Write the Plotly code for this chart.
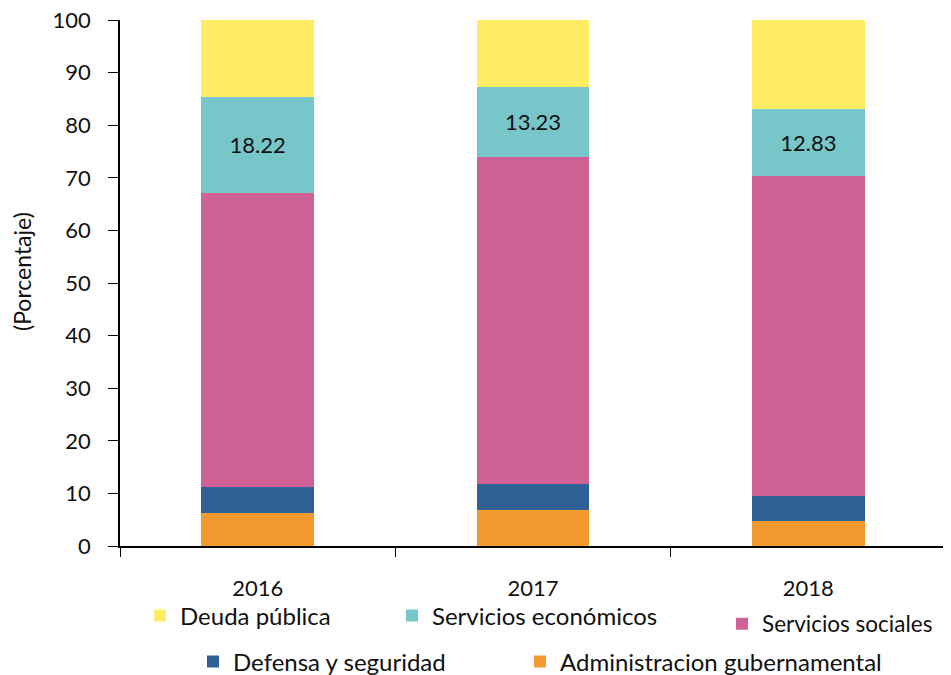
import plotly.graph_objects as go

# Composicion del gasto por año (porcentaje)
years = ["2016", "2017", "2018"]
administracion = [6.2, 6.8, 4.8]
defensa = [5.1, 5.0, 4.7]
sociales = [55.9, 62.2, 60.8]
economicos = [18.22, 13.23, 12.83]
deuda = [14.58, 12.77, 16.87]

FONT = "Lato"

series = [
    ("Administracion gubernamental", administracion, "#F39A2F", "legend5"),
    ("Defensa y seguridad", defensa, "#2F6197", "legend4"),
    ("Servicios sociales", sociales, "#D06195", "legend3"),
    ("Servicios económicos", economicos, "#77C7CA", "legend2"),
    ("Deuda pública", deuda, "#FFEC62", "legend"),
]

fig = go.Figure()
for name, vals, color, leg in series:
    show_text = name == "Servicios económicos"
    fig.add_trace(go.Bar(
        x=years, y=vals, name=name,
        marker=dict(color=color, line=dict(width=0)),
        text=[f"{v:.2f}" for v in vals] if show_text else None,
        textposition="inside" if show_text else "none",
        insidetextanchor="middle",
        textfont=dict(size=22, color="#111111", family=FONT),
        legend=leg, showlegend=True,
        hoverinfo="x+y+name",
    ))

def leg(x, y, size=24):
    return dict(x=x, y=y, xanchor="left", yanchor="middle", xref="paper", yref="paper",
                bgcolor="rgba(0,0,0,0)", font=dict(size=size, color="#111111", family=FONT),
                itemsizing="constant", visible=True)

# plot area wanted at 120..946 px horizontally, 20..546 px vertically (page coords)
def px(xp):
    return (xp - 120) / 826

def py(yp):
    return (546 - yp) / 526

# page body has an 8px margin, so the figure is sized/offset to compensate
fig.update_layout(
    width=943, height=667,
    margin=dict(l=112, r=5, t=12, b=129, autoexpand=False),
    paper_bgcolor="white", plot_bgcolor="white",
    barmode="stack", bargap=0.59,
    showlegend=True,
    font=dict(family=FONT, size=22, color="#111111"),
    legend=leg(px(140), py(616)),
    legend2=leg(px(392), py(616)),
    legend3=leg(px(722), py(624), size=22.5),
    legend4=leg(px(193), py(662)),
    legend5=leg(px(520), py(662)),
    xaxis=dict(
        automargin=False,
        showline=True, linecolor="black", linewidth=1.5,
        ticks="outside", ticklen=9, tickcolor="black", tickson="boundaries",
        ticklabelstandoff=22,
        tickfont=dict(size=22, family=FONT, color="#111111"),
    ),
    yaxis=dict(
        automargin=False,
        range=[0, 100], dtick=10, showgrid=False, zeroline=False,
        showline=True, linecolor="black", linewidth=1.5,
        ticks="outside", ticklen=10, tickcolor="black",
        ticklabelstandoff=13, ticklabeloverflow="allow",
        tickfont=dict(size=22, family=FONT, color="#111111"),
    ),
    annotations=[dict(
        text="(Porcentaje)", textangle=-90, showarrow=False,
        xref="paper", yref="paper", x=px(22), y=py(272),
        xanchor="center", yanchor="middle",
        font=dict(size=23, family=FONT, color="#111111"),
    )],
)

fig.write_html("out.html")
